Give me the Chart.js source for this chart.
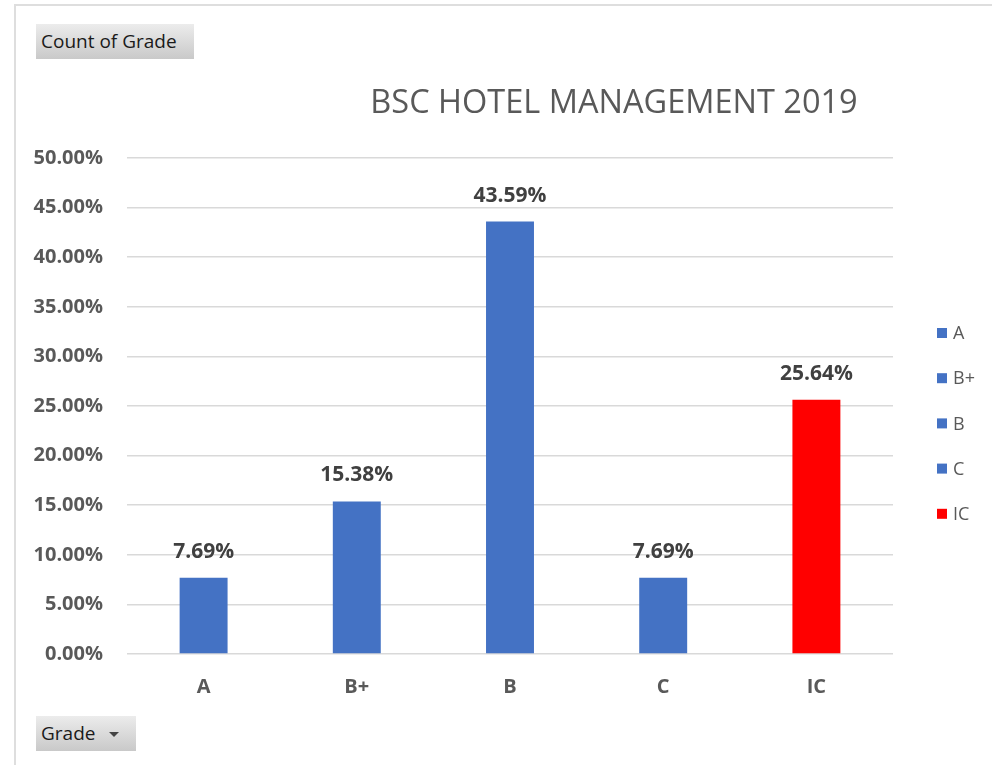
<!DOCTYPE html>
<html>
<head>
<meta charset="utf-8">
<script src="https://cdn.jsdelivr.net/npm/chart.js@4.4.1/dist/chart.umd.min.js"></script>
<style>
  html, body { margin: 0; padding: 0; background: #fff; overflow: hidden; }
  #wrap { position: relative; width: 992px; height: 765px; }
  #frame { position: absolute; left: 14px; top: 4px; width: 1000px; height: 800px; border: 2px solid #dedede; box-sizing: border-box; }
  #chart { position: absolute; left: 0; top: 0; }
  .pivot-btn {
    position: absolute; height: 35px; box-sizing: border-box;
    background: linear-gradient(#ececec, #c9c9c9);
    font-family: "Open Sans", sans-serif; font-size: 19px; color: #1a1a1a;
    line-height: 35px; padding-left: 5px;
  }
  .arrow { display: inline-block; margin-left: 14px; width: 0; height: 0; border-left: 5px solid transparent; border-right: 5px solid transparent; border-top: 5px solid #444; vertical-align: middle; }
</style>
</head>
<body>
<div id="wrap">
  <div id="frame"></div>
  <canvas id="chart" width="992" height="765"></canvas>
  <div class="pivot-btn" style="left:36px; top:24px; width:158px;">Count of Grade</div>
  <div class="pivot-btn" style="left:36px; top:716px; width:100px;">Grade<span class="arrow"></span></div>
</div>
<script>
// chart data
const chartTitle = 'BSC HOTEL MANAGEMENT 2019';
const grades = ['A', 'B+', 'B', 'C', 'IC'];
const gradeShare = [7.69, 15.38, 43.59, 7.69, 25.64];
const barColors = ['#4472C4', '#4472C4', '#4472C4', '#4472C4', '#FF0000'];

const FONT = '"Open Sans", sans-serif';

// draws title, value labels and the legend on the canvas
const extrasPlugin = {
    id: 'extras',
    afterDatasetsDraw(chart) {
        const ctx = chart.ctx;
        const meta = chart.getDatasetMeta(0);
        ctx.save();

        // value labels above the bars
        ctx.font = 'bold 21px ' + FONT;
        ctx.fillStyle = '#404040';
        ctx.textAlign = 'center';
        ctx.textBaseline = 'middle';
        meta.data.forEach((bar, i) => {
            ctx.fillText(gradeShare[i].toFixed(2) + '%', bar.x, bar.y - 26);
        });

        // title
        ctx.font = '32.5px ' + FONT;
        ctx.fillStyle = '#595959';
        ctx.fillText(chartTitle, 614, 104);

        // legend
        ctx.font = '18px ' + FONT;
        ctx.textAlign = 'left';
        grades.forEach((g, i) => {
            const y = 333 + i * 45.2;
            ctx.fillStyle = barColors[i];
            ctx.fillRect(937, y - 5, 10, 10);
            ctx.fillStyle = '#595959';
            ctx.fillText(g, 953, y + 1);
        });
        ctx.restore();
    }
};

new Chart(document.getElementById('chart'), {
    type: 'bar',
    data: {
        labels: grades,
        datasets: [{
            label: 'Count of Grade',
            data: gradeShare,
            backgroundColor: barColors,
            borderWidth: 0,
            categoryPercentage: 1,
            barPercentage: 0.313
        }]
    },
    options: {
        responsive: false,
        animation: false,
        layout: {
            padding: { left: 0, right: 99, top: 158, bottom: 0 }
        },
        plugins: {
            legend: { display: false },
            tooltip: { enabled: false }
        },
        scales: {
            x: {
                grid: { display: false, drawTicks: false },
                border: { display: false },
                ticks: {
                    padding: 21,
                    color: '#595959',
                    font: { family: FONT, size: 20, weight: 'bold' }
                },
                afterFit(scale) { scale.height = 111; }
            },
            y: {
                min: 0,
                max: 50,
                grid: { color: '#d9d9d9', lineWidth: 1.5, drawTicks: false },
                border: { display: false },
                ticks: {
                    stepSize: 5,
                    padding: 24,
                    color: '#595959',
                    font: { family: FONT, size: 20, weight: 'bold' },
                    callback: v => v.toFixed(2) + '%'
                },
                afterFit(scale) { scale.width = 127; }
            }
        }
    },
    plugins: [extrasPlugin]
});
</script>
</body>
</html>
